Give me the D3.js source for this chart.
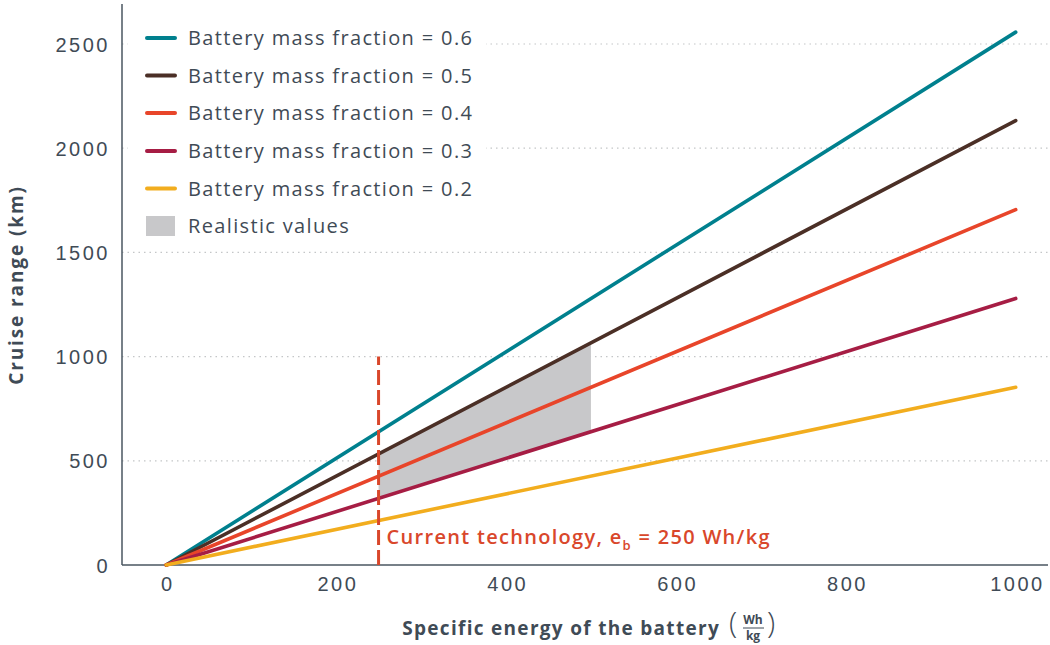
<!DOCTYPE html>
<html>
<head>
<meta charset="utf-8">
<script src="https://cdn.jsdelivr.net/npm/d3@7"></script>
<style>
  html, body { margin: 0; padding: 0; background: #fff; }
  svg { display: block; font-family: "Open Sans", "Noto Sans", sans-serif; }
</style>
</head>
<body>
<svg id="chart" width="1050" height="645"></svg>
<script>
// ---- data ----
const fractions = [0.6, 0.5, 0.4, 0.3, 0.2];
const seriesNames = ["Battery mass fraction = 0.6", "Battery mass fraction = 0.5", "Battery mass fraction = 0.4", "Battery mass fraction = 0.3", "Battery mass fraction = 0.2"];
const energyPoints = [0, 1000];
const rangeAt0 = [0, 0, 0, 0, 0];
const rangeAt1000 = [2557, 2132, 1705, 1279, 853];
const seriesColors = ["#00808e", "#4b2f26", "#e8452a", "#a61d44", "#f2ad1e"];
const realisticX = [250, 500];
const realisticUpper = [533, 1066];  // fraction 0.5
const realisticLower = [320, 640];   // fraction 0.3
const currentTech = 250;
const currentTechTop = 1000;
const xTicks = [0, 200, 400, 600, 800, 1000];
const yTicks = [0, 500, 1000, 1500, 2000, 2500];
const gridTicks = [500, 1000, 1500, 2000, 2500];

const svg = d3.select("#chart");
const textColor = "#3f4b56";
const axisColor = "#4a5661";

const x = d3.scaleLinear().domain([-52, 1038]).range([122, 1048]);
const y = d3.scaleLinear().domain([0, 2692]).range([565, 4]);

// gridlines
svg.append("g").selectAll("line").data(gridTicks).join("line")
  .attr("x1", x(-52)).attr("x2", x(1038))
  .attr("y1", d => y(d)).attr("y2", d => y(d))
  .attr("stroke", "#c4c6c8").attr("stroke-width", 1.2)
  .attr("stroke-dasharray", "1.5,4");

// realistic area
const area = d3.area()
  .x((d, i) => x(realisticX[i]))
  .y0((d, i) => y(realisticLower[i]))
  .y1((d, i) => y(realisticUpper[i]));
svg.append("path").datum(realisticX).attr("d", area).attr("fill", "#c8c8ca");

// axes
const yAxis = d3.axisLeft(y).tickValues(yTicks).tickSize(0).tickPadding(12).tickFormat(d3.format("d"));
const gy = svg.append("g").attr("transform", `translate(${x(-52)},0)`).call(yAxis);
gy.select(".domain").attr("d", `M0,${y(2692)}V${y(0)}`).attr("stroke", axisColor).attr("stroke-width", 1.5);
gy.selectAll("text").attr("font-size", 20).attr("letter-spacing", 2.5).attr("fill", textColor).attr("x", -12).attr("dy", "0.35em");

const xAxis = d3.axisBottom(x).tickValues(xTicks).tickSize(0).tickPadding(10).tickFormat(d3.format("d"));
const gx = svg.append("g").attr("transform", `translate(0,${y(0)})`).call(xAxis);
gx.select(".domain").attr("d", `M${x(-52)},0H${x(1038)}`).attr("stroke", axisColor).attr("stroke-width", 1.5);
gx.selectAll("text").attr("font-size", 20).attr("letter-spacing", 2.5).attr("fill", textColor).attr("y", 9).attr("dy", "0.85em")
  .attr("dx", 1.25);

// series lines
const line = d3.line().x(d => x(d[0])).y(d => y(d[1]));
fractions.forEach((f, i) => {
  const pts = energyPoints.map((e, j) => [e, j === 0 ? rangeAt0[i] : rangeAt1000[i]]);
  svg.append("path").datum(pts).attr("d", line)
    .attr("fill", "none").attr("stroke", seriesColors[i])
    .attr("stroke-width", 3.6).attr("stroke-linecap", "round");
});

// current technology dashed line
svg.append("line")
  .attr("x1", x(currentTech)).attr("x2", x(currentTech))
  .attr("y1", y(0)).attr("y2", y(currentTechTop))
  .attr("stroke", "#d9472b").attr("stroke-width", 3)
  .attr("stroke-dasharray", "15,5");

const ann = svg.append("text").attr("x", x(currentTech) + 8).attr("y", 544)
  .attr("fill", "#d9472b").attr("font-size", 20).attr("font-weight", 600).attr("letter-spacing", 1.3);
ann.append("tspan").text("Current technology, e");
ann.append("tspan").attr("font-size", 13).attr("dy", 6).text("b");
ann.append("tspan").attr("dy", -6).text(" = 250 Wh/kg");

// legend
const lg = svg.append("g");
lg.append("rect").attr("x", 128).attr("y", 18).attr("width", 358).attr("height", 225).attr("fill", "#fff");
const rowY = [38, 75.5, 113, 151, 188.5];
seriesNames.forEach((n, i) => {
  lg.append("line").attr("x1", 147).attr("x2", 175).attr("y1", rowY[i]).attr("y2", rowY[i])
    .attr("stroke", seriesColors[i]).attr("stroke-width", 4).attr("stroke-linecap", "round");
  lg.append("text").attr("x", 188).attr("y", rowY[i]).attr("dy", "0.35em")
    .attr("font-size", 20).attr("letter-spacing", 1.35).attr("fill", textColor).text(n);
});
lg.append("rect").attr("x", 146).attr("y", 216).attr("width", 29).attr("height", 20).attr("fill", "#c8c8ca");
lg.append("text").attr("x", 188).attr("y", 226).attr("dy", "0.35em")
  .attr("font-size", 20).attr("letter-spacing", 1.35).attr("fill", textColor).text("Realistic values");

// y axis title
svg.append("text").attr("transform", "translate(23,285) rotate(-90)")
  .attr("text-anchor", "middle").attr("font-size", 19).attr("font-weight", 700).attr("letter-spacing", 1.9)
  .attr("fill", textColor).text("Cruise range (km)");

// x axis title
const xt = svg.append("g");
xt.append("text").attr("x", 720).attr("y", 635).attr("text-anchor", "end")
  .attr("font-size", 19).attr("font-weight", 700).attr("letter-spacing", 1.3).attr("fill", textColor)
  .text("Specific energy of the battery");
xt.append("text").attr("x", 729).attr("y", 633).attr("font-size", 30).attr("font-weight", 300)
  .attr("fill", textColor).text("(");
xt.append("text").attr("x", 753).attr("y", 624).attr("text-anchor", "middle")
  .attr("font-size", 12).attr("font-weight", 700).attr("fill", textColor).text("Wh");
xt.append("line").attr("x1", 743).attr("x2", 764).attr("y1", 628).attr("y2", 628)
  .attr("stroke", textColor).attr("stroke-width", 1);
xt.append("text").attr("x", 753).attr("y", 640).attr("text-anchor", "middle")
  .attr("font-size", 12).attr("font-weight", 700).attr("fill", textColor).text("kg");
xt.append("text").attr("x", 767).attr("y", 633).attr("font-size", 30).attr("font-weight", 300)
  .attr("fill", textColor).text(")");
</script>
</body>
</html>
